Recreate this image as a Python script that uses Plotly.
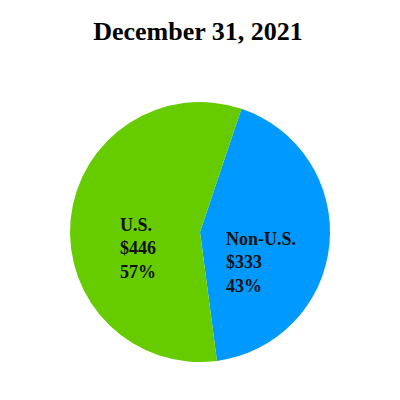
import plotly.graph_objects as go

# data
labels = ["Non-U.S.", "U.S."]
values = [333, 446]
colors = ["#0099FF", "#66CC00"]
title = "December 31, 2021"

FONT = "Liberation Serif, Times New Roman, serif"

total = sum(values)
pcts = [round(v / total * 100) for v in values]

# page body adds an 8px margin, so everything is laid out 8px up/left
OFF = 8
L, R, T, B = 70 - OFF, 70 + OFF, 102 - OFF, 38 + OFF
PW, PH = 400 - L - R, 400 - T - B


def px_to_paper(x, y):
    return (x - OFF - L) / PW, 1 - (y - OFF - T) / PH


fig = go.Figure(go.Pie(
    labels=labels, values=values, sort=False, direction="clockwise",
    rotation=18.6, marker=dict(colors=colors, line=dict(width=0)),
    textinfo="none", hoverinfo="label+value+percent", showlegend=False,
))

# label blocks placed by hand (left aligned, like the original)
text_pos = {"U.S.": (118, 248), "Non-U.S.": (224, 262)}
for lab, val, p in zip(labels, values, pcts):
    x, y = px_to_paper(*text_pos[lab])
    fig.add_annotation(
        x=x, y=y, xref="paper", yref="paper",
        xanchor="left", yanchor="middle", align="left", showarrow=False,
        text=f"<b>{lab}<br>${val}<br>{p}%</b>",
        font=dict(family=FONT, size=18, color="#111111"),
    )

fig.update_layout(
    width=400, height=400,
    paper_bgcolor="white", plot_bgcolor="white",
    margin=dict(l=L, r=R, t=T, b=B),
    title=dict(text=f"<b>{title}</b>", x=(198 - OFF) / 400, xanchor="center",
               y=1 - (31 - OFF) / 400, yanchor="middle", yref="container",
               font=dict(family=FONT, size=26, color="black")),
)

fig.write_html("out.html")
